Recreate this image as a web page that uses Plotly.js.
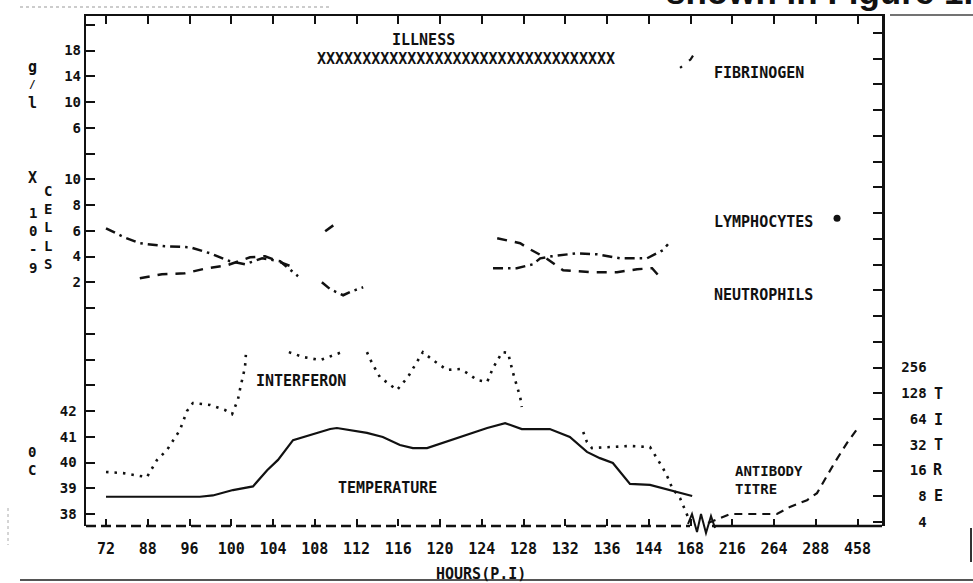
<!DOCTYPE html>
<html><head><meta charset="utf-8">
<script src="https://cdn.plot.ly/plotly-3.0.1.min.js"></script>
<style>html,body{margin:0;padding:0;background:#fff}#chart{width:973px;height:583px}</style>
</head><body><div id="chart"></div>
<script>
// ---- x axis: evenly spaced hour ticks (position = index) ----
const hourLabels = ["72","88","96","100","104","108","112","116","120","124","128","132","136","144","168","216","264","288","458"];

// ---- axis tick labels ----
const tempTicks = [38, 39, 40, 41, 42];          // deg C
const cellTicks = [2, 4, 6, 8, 10];              // x10^9 cells
const fibTicks  = [6, 10, 14, 18];               // g/l
const titreTicks = [4, 8, 16, 32, 64, 128, 256]; // titre

// ---- temperature (solid) ----
const tempX = [0, 2.25, 2.56, 3.04, 3.52, 3.86, 4.12, 4.48, 5.37, 5.53, 6.25, 6.63, 7.04, 7.35, 7.69, 8.07, 8.65, 9.13, 9.56, 9.96, 10.63, 10.80, 11.11, 11.52, 11.83, 12.14, 12.55, 13.03, 13.34, 13.58, 14.04];
const tempY = [38.67, 38.67, 38.72, 38.93, 39.07, 39.7, 40.1, 40.87, 41.30, 41.34, 41.15, 40.99, 40.68, 40.56, 40.56, 40.76, 41.07, 41.34, 41.53, 41.30, 41.30, 41.18, 40.99, 40.41, 40.17, 39.98, 39.17, 39.13, 39.0, 38.92, 38.7];

// ---- interferon titre (dotted) ----
const ifnX = [0, 0.41, 0.98, 1.22, 1.46, 1.77, 1.94, 2.08, 2.49, 2.85, 3.02, 3.07, 3.16, 3.21, 3.27, 3.33, 3.35, null,
              4.38, 4.72, 5.13, 5.44, 5.65, null,
              6.25, 6.37, 6.56, 6.97, 7.23, 7.40, 7.59, 7.83, 8.17, 8.48, 8.65, 8.89, 9.13, 9.27, 9.49, 9.63, 9.75, 9.92, 9.96, null,
              11.43, 11.52, 11.64, 12.07, 12.55, 13.03, 13.20, 13.34, 13.46, 13.56, 13.75, 13.87, 13.99];
const ifnY = [15.4, 14.9, 13.4, 21.2, 27.8, 47.6, 79.4, 98.5, 93.6, 81.6, 73.0, 83.0, 108, 143, 190, 260, 360, null,
              388, 340, 313, 360, 388, null,
              388, 290, 198, 140, 198, 274, 388, 313, 240, 246, 221, 183, 174, 253, 388, 380, 221, 116, 88.6, null,
              45.2, 34.5, 29.3, 30.1, 31.0, 30.1, 22.4, 17.1, 13.1, 10.0, 7.6, 5.5, 4.0];

// ---- antibody titre (dashed) ----
const abX = [14.42, 14.95, 15.11, 16.07, 16.38, 16.79, 17.03, 17.27, 17.46, 17.75, 18.01];
const abY = [3.9, 4.96, 4.96, 4.96, 6.0, 7.2, 8.7, 14.2, 20.1, 33.6, 50.3];

// ---- lymphocytes (dash-dot), x10^9 ----
const lymX = [0, 0.43, 0.81, 1.41, 2.01, 2.49, 2.97, 3.33, 3.74, 4.17, 4.60, null,
              5.17, 5.37, 5.68, 5.89, 6.16, null,
              9.27, 9.84, 10.23, 10.40, 10.68, 11.28, 11.76, 12.31, 12.96, 13.34, 13.46];
const lymY = [6.19, 5.50, 5.03, 4.80, 4.72, 4.25, 3.63, 3.40, 3.86, 3.63, 2.47, null,
              2.00, 1.46, 0.99, 1.30, 1.61, null,
              3.09, 3.09, 3.40, 3.86, 4.02, 4.25, 4.17, 3.86, 3.86, 4.49, 4.95];
const lymDotX = [17.51];
const lymDotY = [6.97];

// ---- neutrophils (dashed), x10^9 ----
const neuX = [0.81, 1.34, 1.89, 2.42, 2.90, 3.45, 3.81, 4.12, 4.55, null,
              5.25, 5.58, null,
              9.37, 9.60, 9.92, 10.11, 10.51, 10.95, 11.66, 12.24, 12.72, 13.08, 13.27];
const neuY = [2.31, 2.62, 2.70, 3.09, 3.32, 3.94, 4.02, 3.63, 3.09, null,
              5.96, 6.74, null,
              5.42, 5.26, 5.03, 4.64, 3.94, 2.93, 2.78, 2.78, 3.01, 3.09, 2.39];

// ---- fibrinogen g/l ----
const fibX = [13.75, 14.0, 14.06];
const fibY = [15.3, 16.6, 17.2];

// ================= layout geometry =================
const W = 973, H = 583, L = 86, R = 882, T = 16, B = 526;
const px = x => (x - L) / (R - L);
const py = y => (B - y) / (B - T);
const MONO = 'DejaVu Sans Mono';
const INK = '#111';
const f = (s) => ({family: MONO, size: s, color: INK, weight: 'bold'});

const xIdx = hourLabels.map((_, i) => i);
const tempAllTicks = []; for (let v = 38; v <= 57; v++) tempAllTicks.push(v);
const tempText = tempAllTicks.map(v => tempTicks.includes(v) ? String(v) : '');
const titreAll = []; for (let k = 0; k < 20; k++) titreAll.push(4 * Math.pow(2, k));
const titreText = titreAll.map(v => {
  if (!titreTicks.includes(v)) return '';
  const s = String(v); return '\u00A0'.repeat(3 - s.length) + s;
});

const traces = [
  {x: tempX, y: tempY, xaxis: 'x', yaxis: 'y', mode: 'lines', line: {color: INK, width: 2.2}},
  {x: ifnX, y: ifnY, xaxis: 'x', yaxis: 'y4', mode: 'lines', line: {color: INK, width: 2.6, dash: '2.5px,6px'}},
  {x: abX, y: abY, xaxis: 'x', yaxis: 'y4', mode: 'lines', line: {color: INK, width: 2.2, dash: '8px,6px'}},
  {x: lymX, y: lymY, xaxis: 'x', yaxis: 'y2', mode: 'lines', line: {color: INK, width: 2.5, dash: '10px,5px,2.5px,5px'}},
  {x: lymDotX, y: lymDotY, xaxis: 'x', yaxis: 'y2', mode: 'markers', marker: {color: INK, size: 7}},
  {x: neuX, y: neuY, xaxis: 'x', yaxis: 'y2', mode: 'lines', line: {color: INK, width: 2.5, dash: '10px,8px'}},
  {x: fibX, y: fibY, xaxis: 'x', yaxis: 'y3', mode: 'lines', line: {color: INK, width: 2.2, dash: '2.5px,9px,8px'}},
  {x: [null], y: [null], xaxis: 'x2', yaxis: 'y', mode: 'lines'}
];

function ann(text, x, y, size, anchor) {
  return {text, xref: 'paper', yref: 'paper', x: px(x), y: py(y), xanchor: anchor || 'left', yanchor: 'middle',
          align: anchor === 'center' ? 'center' : 'left',
          showarrow: false, font: f(size || 15), borderpad: 0};
}
const annotations = [
  ann('ILLNESS', 391, 40),
  ann('XXXXXXXXXXXXXXXXXXXXXXXXXXXXXXXXX', 316, 59),
  ann('FIBRINOGEN', 713, 73),
  ann('LYMPHOCYTES', 713, 222),
  ann('NEUTROPHILS', 713, 295),
  ann('INTERFERON', 255, 381),
  ann('TEMPERATURE', 337, 488),
  ann('ANTIBODY<br>TITRE', 734, 480, 14),
  ann('HOURS(P.I)', 481, 574, 15, 'center'),
  // left axis titles (stacked)
  ann('g', 32, 67, 15, 'center'), ann('/', 32, 85, 11, 'center'), ann('l', 32, 103, 15, 'center'),
  ann('X', 32, 178, 15, 'center'),
  ann('1<br>0<br>-<br>9', 33, 240, 14, 'center'),
  ann('C<br>E<br>L<br>L<br>S', 48, 227, 14, 'center'),
  ann('0<br>C', 32, 461, 14, 'center'),
  // right axis title (stacked)
  ann('T', 938, 394, 15, 'center'), ann('I', 938, 420, 15, 'center'), ann('T', 938, 445, 15, 'center'),
  ann('R', 938, 470, 15, 'center'), ann('E', 938, 496, 15, 'center'),
  // scanned page text cut at the top
  {text: 'shown in Figure 1.', xref: 'paper', yref: 'paper', x: px(975), y: py(13), xanchor: 'right', yanchor: 'bottom',
   showarrow: false, font: {family: 'Liberation Sans', size: 35, color: '#111'}}
];

// zigzag axis break
const zz = [[688,524],[692,514],[697,532],[701,514],[706,533],[711,516],[715,528]];
const zzPath = 'M ' + zz.map(p => px(p[0]) + ',' + py(p[1])).join(' L ');

const shapes = [
  {type: 'line', xref: 'paper', yref: 'paper', x0: px(86), x1: px(690), y0: 0, y1: 0, line: {color: INK, width: 2.5, dash: '10px,5px'}},
  {type: 'line', xref: 'paper', yref: 'paper', x0: px(712), x1: 1, y0: 0, y1: 0, line: {color: INK, width: 2.5}},
  {type: 'path', xref: 'paper', yref: 'paper', path: zzPath, line: {color: INK, width: 2}},
  // scan page edges
  {type: 'line', xref: 'paper', yref: 'paper', x0: px(20), x1: px(973), y0: py(580), y1: py(580), line: {color: '#555', width: 2}},
  {type: 'line', xref: 'paper', yref: 'paper', x0: px(20), x1: px(330), y0: py(7), y1: py(7), line: {color: '#999', width: 1, dash: 'dot'}},
  {type: 'line', xref: 'paper', yref: 'paper', x0: px(890), x1: px(973), y0: py(15), y1: py(15), line: {color: '#444', width: 1.5}},
  {type: 'line', xref: 'paper', yref: 'paper', x0: px(971), x1: px(971), y0: py(528), y1: py(562), line: {color: '#333', width: 2}},
  {type: 'line', xref: 'paper', yref: 'paper', x0: px(8), x1: px(8), y0: py(508), y1: py(545), line: {color: '#aaa', width: 1, dash: 'dot'}}
];

const xr = [(L - 106) / 41.75, (R - 106) / 41.75];
const layout = {
  width: W, height: H,
  margin: {l: L, r: W - R, t: T, b: H - B, pad: 0},
  paper_bgcolor: '#fff', plot_bgcolor: 'rgba(0,0,0,0)',
  showlegend: false, hovermode: false,
  font: f(14),
  xaxis: {range: xr, tickmode: 'array', tickvals: xIdx, ticktext: hourLabels, ticks: 'inside', ticklen: 7, tickwidth: 2,
          tickcolor: INK, showline: false, showgrid: false, zeroline: false, tickfont: f(15), ticklabelstandoff: 12, fixedrange: true},
  xaxis2: {range: xr, overlaying: 'x', side: 'top', anchor: 'y', tickmode: 'array', tickvals: xIdx, showticklabels: false,
           ticks: 'inside', ticklen: 8, tickwidth: 2, tickcolor: INK, showline: true, linewidth: 2.5, linecolor: INK,
           showgrid: false, zeroline: false},
  yaxis: {range: [38 - 12 / 25.75, 38 + (514 - T) / 25.75], tickmode: 'array', tickvals: tempAllTicks, ticktext: tempText,
          ticks: 'inside', ticklen: 9, tickwidth: 2, tickcolor: INK, showline: true, linewidth: 2.5, linecolor: INK,
          showgrid: false, zeroline: false, tickfont: f(14), ticklabelstandoff: 4},
  yaxis2: {range: [2 - (B - 282.25) / 12.875, 2 + (282.25 - T) / 12.875], overlaying: 'y', side: 'left', anchor: 'x',
           tickmode: 'array', tickvals: cellTicks, ticks: '', showline: false, showgrid: false, zeroline: false,
           tickfont: f(14), ticklabelstandoff: 4},
  yaxis3: {range: [6 - (B - 127.75) / 6.4375, 6 + (127.75 - T) / 6.4375], overlaying: 'y', side: 'left', anchor: 'x',
           tickmode: 'array', tickvals: fibTicks, ticks: '', showline: false, showgrid: false, zeroline: false,
           tickfont: f(14), ticklabelstandoff: 4},
  yaxis4: {type: 'log', range: [Math.log10(4) - (B - 522) / 85.51, Math.log10(4) + (522 - T) / 85.51], overlaying: 'y', side: 'right', anchor: 'x',
           tickmode: 'array', tickvals: titreAll, ticktext: titreText, ticks: 'inside', ticklen: 9, tickwidth: 2, tickcolor: INK,
           showline: true, linewidth: 2.5, linecolor: INK, showgrid: false, zeroline: false, tickfont: f(14), ticklabelstandoff: 14},
  annotations, shapes
};

Plotly.newPlot('chart', traces, layout, {staticPlot: true, displayModeBar: false});
</script></body></html>
